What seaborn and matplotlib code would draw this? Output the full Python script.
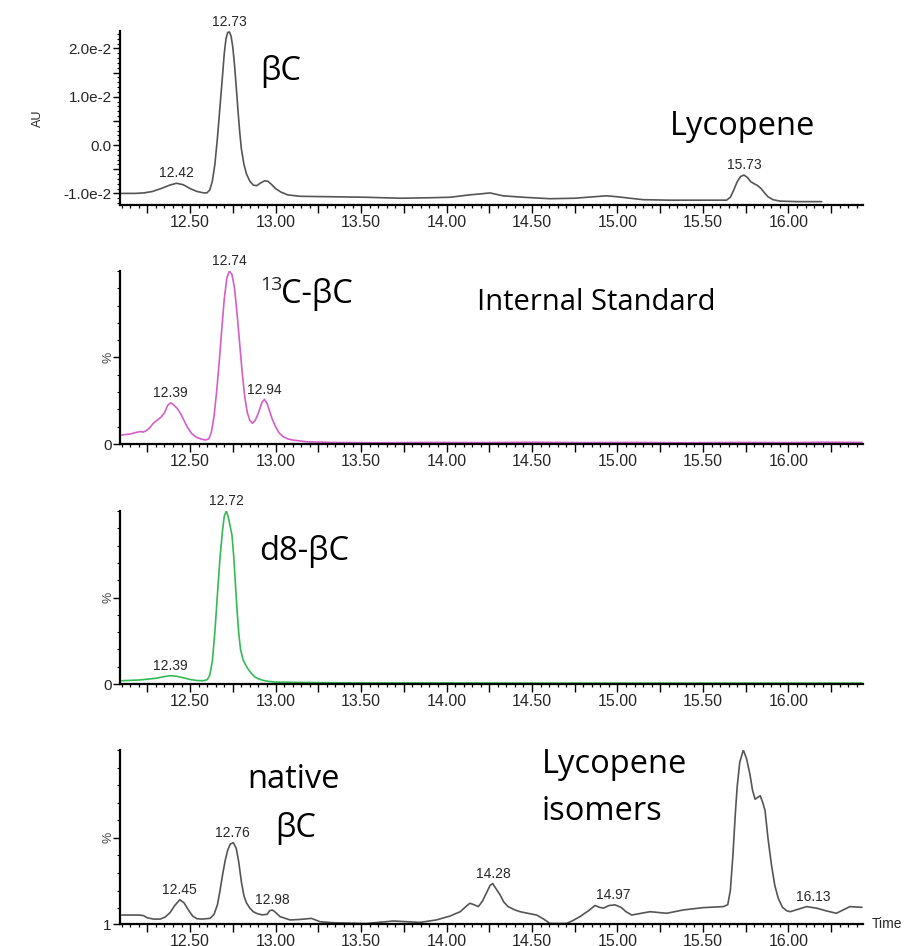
import numpy as np
import matplotlib
matplotlib.use("Agg")
import matplotlib.pyplot as plt
import seaborn as sns
from matplotlib.ticker import MultipleLocator, FuncFormatter

# ---- data ----
# panel 1: UV trace (AU, in units of 1e-2)
uv_time = [12.10, 12.18, 12.23, 12.28, 12.33, 12.38, 12.42, 12.46, 12.50, 12.54,
           12.58, 12.598, 12.615, 12.63, 12.645, 12.66, 12.675, 12.69, 12.70, 12.71,
           12.72, 12.73, 12.74, 12.75, 12.76, 12.77, 12.78, 12.79, 12.80, 12.815,
           12.83, 12.85, 12.87, 12.89, 12.91, 12.935, 12.955, 12.975, 13.00, 13.03,
           13.07, 13.143, 13.34, 13.53, 13.73, 13.90, 14.02, 14.137, 14.20, 14.254,
           14.33, 14.45, 14.605, 14.75, 14.86, 14.937, 15.00, 15.073, 15.15, 15.30,
           15.463, 15.638, 15.66, 15.68, 15.70, 15.72, 15.74, 15.76, 15.78, 15.80,
           15.82, 15.84, 15.86, 15.88, 15.91, 15.95, 16.05, 16.194]
uv_au = [-1.00, -1.00, -0.99, -0.96, -0.90, -0.83, -0.79, -0.82, -0.90, -0.96,
         -0.99, -0.99, -0.93, -0.75, -0.40, 0.15, 0.80, 1.45, 1.90, 2.20,
         2.33, 2.34, 2.25, 2.02, 1.65, 1.20, 0.72, 0.28, -0.08, -0.40,
         -0.60, -0.75, -0.83, -0.84, -0.79, -0.74, -0.75, -0.81, -0.90, -0.97,
         -1.03, -1.06, -1.07, -1.08, -1.10, -1.09, -1.08, -1.03, -1.01, -0.99,
         -1.05, -1.08, -1.11, -1.10, -1.07, -1.05, -1.07, -1.10, -1.13, -1.14,
         -1.14, -1.14, -1.08, -0.93, -0.76, -0.65, -0.62, -0.67, -0.76, -0.80,
         -0.84, -0.90, -0.99, -1.07, -1.13, -1.16, -1.17, -1.17]

# panel 2: 13C-betaC internal standard (%)
c13_time = [12.10, 12.15, 12.19, 12.21, 12.227, 12.245, 12.265, 12.285, 12.31, 12.33,
            12.35, 12.37, 12.387, 12.405, 12.425, 12.445, 12.465, 12.485, 12.51, 12.535,
            12.56, 12.59, 12.61, 12.625, 12.64, 12.655, 12.67, 12.685, 12.70, 12.715,
            12.73, 12.745, 12.76, 12.775, 12.79, 12.805, 12.82, 12.835, 12.85, 12.865,
            12.88, 12.90, 12.92, 12.935, 12.95, 12.965, 12.98, 13.00, 13.02, 13.045,
            13.07, 13.10, 13.18, 13.32, 13.6, 13.9, 14.2, 14.5, 14.8, 15.1,
            15.4, 15.7, 16.0, 16.2, 16.43]
c13_pct = [5.2, 5.8, 6.8, 7.2, 6.9, 7.8, 9.5, 12, 14, 15.5,
           18, 22.5, 23.8, 22.5, 20.5, 17.5, 13.5, 9.5, 6, 4,
           3.0, 2.3, 3, 7, 16, 30, 47, 66, 84, 96,
           100, 98, 90, 75, 58, 41, 27, 18, 13.5, 12,
           13.5, 18, 24, 25.8, 23.5, 19, 14.5, 10, 6.5, 4.2,
           3, 2.3, 1.3, 0.9, 0.7, 0.9, 0.8, 1.0, 0.8, 0.9,
           0.7, 0.9, 0.8, 1.0, 0.9]

# panel 3: d8-betaC (%)
d8_time = [12.10, 12.20, 12.30, 12.35, 12.387, 12.42, 12.46, 12.50, 12.54, 12.578,
           12.60, 12.615, 12.63, 12.645, 12.66, 12.675, 12.69, 12.70, 12.712, 12.722,
           12.735, 12.745, 12.755, 12.765, 12.775, 12.785, 12.795, 12.81, 12.825, 12.84,
           12.86, 12.88, 12.90, 12.93, 12.96, 13.0, 13.14, 13.5, 14.0, 14.5,
           15.0, 15.5, 16.0, 16.43]
d8_pct = [1.9, 2.3, 3.3, 4.3, 4.8, 4.5, 3.6, 2.6, 2.0, 1.9,
          2.5, 5, 13, 30, 52, 73, 89, 97, 100, 97,
          91, 86, 74, 58, 42, 29, 20, 14, 11, 8.5,
          6, 4, 3, 2, 1.5, 1.1, 0.9, 0.6, 0.6, 0.5,
          0.5, 0.5, 0.5, 0.5]

# panel 4: native betaC + lycopene isomers (%)
nat_time = [12.10, 12.20, 12.227, 12.25, 12.286, 12.325, 12.355, 12.383, 12.41, 12.44,
            12.465, 12.49, 12.515, 12.54, 12.57, 12.617, 12.64, 12.66, 12.675, 12.69,
            12.705, 12.72, 12.735, 12.753, 12.77, 12.785, 12.80, 12.815, 12.83, 12.85,
            12.87, 12.89, 12.92, 12.95, 12.965, 12.98, 12.995, 13.026, 13.085, 13.143,
            13.21, 13.26, 13.34, 13.53, 13.69, 13.845, 13.94, 14.02, 14.08, 14.12,
            14.137, 14.16, 14.186, 14.21, 14.235, 14.255, 14.27, 14.29, 14.313, 14.335,
            14.36, 14.40, 14.43, 14.48, 14.527, 14.565, 14.605, 14.703, 14.74, 14.78,
            14.83, 14.868, 14.895, 14.917, 14.95, 14.985, 15.02, 15.05, 15.083, 15.19,
            15.288, 15.385, 15.50, 15.62, 15.645, 15.66, 15.675, 15.69, 15.70, 15.715,
            15.736, 15.755, 15.775, 15.79, 15.805, 15.82, 15.835, 15.85, 15.863, 15.88,
            15.90, 15.92, 15.94, 15.965, 15.99, 16.01, 16.06, 16.106, 16.165, 16.22,
            16.28, 16.36, 16.43]
nat_pct = [6.1, 6.1, 5.8, 4.5, 3.8, 3.8, 5, 7.5, 11.5, 14.8,
           13, 9, 5.5, 4, 3.8, 4.2, 6.5, 12, 20, 29,
           37, 43, 46.5, 47.3, 44, 36, 25, 17, 13, 10,
           8, 7, 6.2, 6.5, 8.5, 9, 8, 5.2, 3.3, 3.6,
           4.2, 2.3, 1.7, 1.3, 2.7, 1.9, 3.3, 5.5, 8, 11.5,
           12.8, 12, 10.9, 14, 19, 23, 24, 21, 17.6, 13.5,
           10.9, 9, 8, 7, 6.1, 4, 1.3, 1.3, 3, 5.2,
           8.5, 11.5, 10.5, 10, 11.5, 11.9, 10.5, 8, 6.1, 8,
           7.1, 9, 10.3, 10.9, 12, 20, 40, 65, 79, 93,
           100, 95, 86, 77, 72, 73, 74, 70, 65.5, 50,
           35, 23, 15.7, 10.5, 8.5, 8, 9.5, 10.9, 10, 8.5,
           7.1, 10.9, 10.5]

# peak labels: (time, height, text)
uv_peaks = ([12.422, 12.73, 15.74], [-0.79, 2.34, -0.62], ["12.42", "12.73", "15.73"])
c13_peaks = ([12.383, 12.73, 12.934], [23.8, 100, 25.8], ["12.39", "12.74", "12.94"])
d8_peaks = ([12.383, 12.715], [4.8, 100], ["12.39", "12.72"])
nat_peaks = ([12.44, 12.747, 12.978, 14.274, 14.975, 16.145],
             [14.8, 47.3, 9, 24, 11.9, 10.9],
             ["12.45", "12.76", "12.98", "14.28", "14.97", "16.13"])

W, H = 906, 946
sns.set_style("ticks")
plt.rcParams["font.family"] = ["Liberation Sans", "DejaVu Sans"]

fig = plt.figure(figsize=(W / 100, H / 100), dpi=100)
LEFT, RIGHT = 120, 863


def make_axes(top, bottom):
    return fig.add_axes([LEFT / W, 1 - bottom / H, (RIGHT - LEFT) / W, (bottom - top) / H])


def style_axes(ax):
    ax.set_xlim(12.09, 16.436)
    sns.despine(ax=ax)
    for s in ("left", "bottom"):
        ax.spines[s].set_linewidth(1.6)
        ax.spines[s].set_color("black")
    ax.xaxis.set_major_locator(MultipleLocator(0.25))
    ax.xaxis.set_minor_locator(MultipleLocator(0.05))
    ax.xaxis.set_major_formatter(
        FuncFormatter(lambda v, p: f"{v:.2f}" if abs(v * 2 - round(v * 2)) < 1e-6 else ""))
    ax.tick_params(axis="x", which="major", length=5.5, width=1.0, labelsize=11.5, pad=2,
                   color="black")
    ax.tick_params(axis="x", which="minor", length=2.5, width=0.9, color="black")
    ax.tick_params(axis="y", which="major", length=5, width=1.0, labelsize=11, pad=1,
                   color="black")
    ax.tick_params(axis="y", which="minor", length=2.5, width=0.8, color="black")
    ax.set_xlabel("")
    ax.set_ylabel("")
    ax.grid(False)


def peak_labels(ax, peaks):
    for t, h, s in zip(*peaks):
        ax.annotate(s, xy=(t, h), xytext=(0, 2), textcoords="offset points",
                    ha="center", va="bottom", fontsize=10)


def pct_axis(ax, ymin, bottom_label):
    ax.set_ylim(ymin, 100)
    ax.set_yticks([ymin, 50])
    ax.set_yticklabels([bottom_label, ""])
    ax.yaxis.set_minor_locator(MultipleLocator(10))
    ax.text(-0.008, 0.5, "%", transform=ax.transAxes, rotation=90, ha="right",
            va="center", fontsize=9, color="#444444")


# ---- panel 1 ----
ax1 = make_axes(31, 205)
sns.lineplot(x=uv_time, y=np.array(uv_au) * 1e-2, ax=ax1, color="#555555", linewidth=1.2)
style_axes(ax1)
ax1.set_ylim(-1.24e-2, 2.36e-2)
ax1.yaxis.set_major_locator(MultipleLocator(0.5e-2))
ax1.yaxis.set_minor_locator(MultipleLocator(0.1e-2))
ax1.yaxis.set_major_formatter(FuncFormatter(
    lambda v, p: (f"{v * 100:.1f}e-2" if abs(v) > 1e-9 else "0.0")
    if abs(v * 100 - round(v * 100)) < 1e-6 else ""))
ax1.set_ylabel("AU", fontsize=9, labelpad=14)
peak_labels(ax1, (uv_peaks[0], np.array(uv_peaks[1]) * 1e-2, uv_peaks[2]))

# ---- panel 2 ----
ax2 = make_axes(271, 444)
sns.lineplot(x=c13_time, y=c13_pct, ax=ax2, color="#d45ec8", linewidth=1.2)
style_axes(ax2)
pct_axis(ax2, 0, "0")
peak_labels(ax2, c13_peaks)

# ---- panel 3 ----
ax3 = make_axes(511, 684)
sns.lineplot(x=d8_time, y=d8_pct, ax=ax3, color="#35b955", linewidth=1.2)
style_axes(ax3)
pct_axis(ax3, 0, "0")
peak_labels(ax3, d8_peaks)

# ---- panel 4 ----
ax4 = make_axes(750, 924)
sns.lineplot(x=nat_time, y=nat_pct, ax=ax4, color="#555555", linewidth=1.2)
style_axes(ax4)
pct_axis(ax4, 1, "1")
peak_labels(ax4, nat_peaks)
ax4.text(1.012, 0.0, "Time", transform=ax4.transAxes, ha="left", va="center", fontsize=10)

# ---- big compound annotations ----
big = dict(family=["Open Sans", "DejaVu Sans"], fontsize=23.5, color="black", va="baseline")


def ftext(x, y, s, **kw):
    fig.text(x / W, 1 - y / H, s, **kw)


ftext(260, 80, "βC", **big)
ftext(670, 135, "Lycopene", **big)
ftext(260, 290, "13", family=["Open Sans", "DejaVu Sans"], fontsize=14, va="baseline")
ftext(281, 303, "C-βC", **big)
ftext(477, 310, "Internal Standard", **dict(big, fontsize=21))
ftext(259, 560, "d8-βC", **big)
ftext(247, 788, "native", **big)
ftext(275, 837, "βC", **big)
ftext(542, 773, "Lycopene", **big)
ftext(542, 820, "isomers", **big)

fig.savefig("out.png", dpi=100)
